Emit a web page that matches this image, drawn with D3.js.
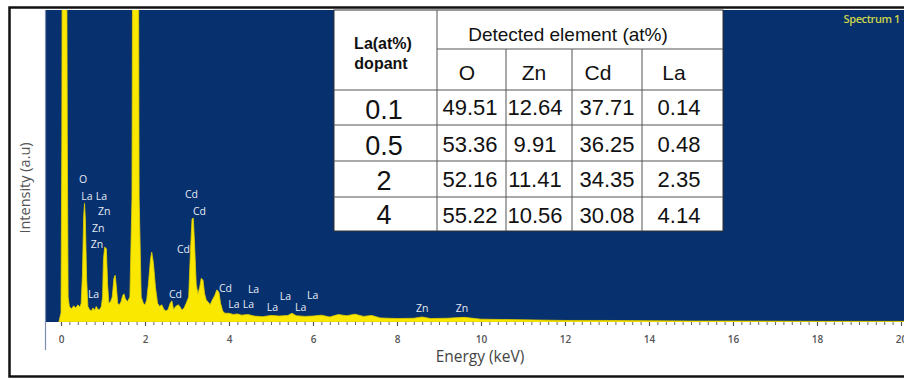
<!DOCTYPE html>
<html>
<head>
<meta charset="utf-8">
<script src="https://cdn.jsdelivr.net/npm/d3@7"></script>
<style>
  html, body { margin: 0; padding: 0; background: #fff; }
  svg { display: block; }
</style>
</head>
<body>
<svg id="chart" width="904" height="380"></svg>
<script>
// EDS spectrum: energy (keV) and intensity (arbitrary units, 100 = top of frame)
const energy = [
  -0.05, 0.00, 0.02, 0.04, 0.12, 0.15, 0.17,
  0.20, 0.25, 0.30, 0.35, 0.40, 0.45,
  0.48, 0.51, 0.54, 0.56, 0.58, 0.61, 0.64,
  0.68, 0.72, 0.76, 0.80, 0.84, 0.88,
  0.92, 0.96, 0.99, 1.01, 1.04, 1.08, 1.11, 1.14,
  1.18, 1.22, 1.26, 1.29, 1.32, 1.35,
  1.39, 1.43, 1.47, 1.50, 1.53, 1.58,
  1.64, 1.69, 1.72, 1.83, 1.86, 1.91,
  1.96, 2.00, 2.04,
  2.08, 2.13, 2.16, 2.20, 2.25, 2.30,
  2.35, 2.40, 2.45, 2.50, 2.55,
  2.60, 2.64, 2.68, 2.73, 2.79, 2.83, 2.88, 2.93, 2.98,
  3.04, 3.08, 3.12, 3.15, 3.18, 3.22, 3.26,
  3.30, 3.34, 3.38, 3.42, 3.46,
  3.50, 3.55, 3.60,
  3.66, 3.71, 3.76, 3.80, 3.85, 3.90,
  4.00, 4.10, 4.20, 4.30, 4.45, 4.60, 4.80, 5.00, 5.20, 5.40, 5.50, 5.60,
  5.80, 6.00, 6.20, 6.40, 6.60, 6.80, 7.00, 7.20, 7.40, 7.60, 8.00, 8.40,
  8.60, 8.80, 9.20, 9.60, 10.0, 10.5, 11.0, 12.0, 13.0, 14.0, 15.0, 16.0,
  18.0, 20.0, 21.0
];
const intensity = [
  0, 3, 60, 200, 200, 60, 8,
  5, 4.2, 5.2, 4.5, 5.5, 4.8,
  6, 15, 34, 38, 33, 14, 5,
  4, 3.5, 4.5, 3.8, 5, 4,
  4, 5, 8, 20, 24, 23.5, 12, 6,
  6.5, 8, 14, 15, 11, 6,
  5.5, 6.5, 8.5, 9, 7.5, 6.5,
  8, 40, 200, 200, 40, 8,
  6, 5.5, 7,
  12, 20, 22.4, 19, 11, 6,
  5, 5.5, 4, 3.5, 4,
  6, 6.8, 4, 5, 5.5, 5, 3.8, 4.5, 6,
  8, 22, 33, 33.3, 25, 12, 9,
  11, 14, 13.5, 9, 7,
  6.5, 5.5, 7,
  8.5, 10.3, 9.5, 6, 3.5, 2.8,
  2.8, 2.4, 2.6, 2.2, 2.4, 1.9, 1.7, 2.1, 1.9, 2.1, 2.8, 2.0,
  1.8, 1.9, 2.2, 1.6, 2.4, 2.0, 2.5, 1.8, 2.1, 1.3, 1.1, 1.2,
  1.6, 1.1, 1.2, 1.5, 0.9, 0.8, 0.7, 0.5, 0.5, 0.4, 0.3, 0.3,
  0.2, 0.2, 0.2
];

// x-axis tick labels (keV)
const energyTicks = [0, 2, 4, 6, 8, 10, 12, 14, 16, 18, 20];

// line identifications: text, energy of left edge, intensity of baseline
const peakText   = ["O", "La", "La", "Zn", "Zn", "Zn", "La", "Cd", "Cd", "Cd", "Cd", "Cd",
                    "La", "La", "La", "La", "La", "La", "La", "Zn", "Zn"];
const peakEnergy = [0.43, 0.48, 0.83, 0.88, 0.74, 0.71, 0.64, 2.95, 3.14, 2.76, 2.57, 3.76,
                    4.45, 3.98, 4.33, 4.90, 5.21, 5.57, 5.86, 8.45, 9.40];
const peakLevel  = [44.6, 39.1, 39.1, 34.3, 28.8, 23.7, 7.7, 39.7, 34.3, 22.1, 7.7, 9.6,
                    9.3, 4.5, 4.5, 3.5, 7.1, 3.5, 7.4, 3.2, 3.2];

// composition table
const dopantLevels = ["0.1", "0.5", "2", "4"];
const elements = ["O", "Zn", "Cd", "La"];
const oxygen    = [49.51, 53.36, 52.16, 55.22];
const zinc      = [12.64, 9.91, 11.41, 10.56];
const cadmium   = [37.71, 36.25, 34.35, 30.08];
const lanthanum = [0.14, 0.48, 2.35, 4.14];

const svg = d3.select("#chart");
const plot = { left: 45, top: 10, right: 904, bottom: 322 };

// outer frame
svg.append("rect")
  .attr("x", 9.5).attr("y", 7.5)
  .attr("width", 910).attr("height", 369)
  .attr("fill", "#fff").attr("stroke", "#111").attr("stroke-width", 2.5);

// plot background
svg.append("rect")
  .attr("x", plot.left).attr("y", plot.top)
  .attr("width", plot.right - plot.left).attr("height", plot.bottom - plot.top)
  .attr("fill", "#06306e");

const x = d3.scaleLinear().domain([0, 20]).range([61, 901]);
const y = d3.scaleLinear().domain([0, 100]).range([plot.bottom, plot.top]);

svg.append("clipPath").attr("id", "plotClip")
  .append("rect")
  .attr("x", plot.left).attr("y", plot.top)
  .attr("width", plot.right - plot.left).attr("height", plot.bottom - plot.top);

const spectrum = energy.map((e, i) => [e, intensity[i]]);
const area = d3.area()
  .x(d => x(d[0]))
  .y0(y(0))
  .y1(d => y(d[1]));

svg.append("path")
  .datum(spectrum)
  .attr("clip-path", "url(#plotClip)")
  .attr("d", area)
  .attr("fill", "#fbe800")
  .attr("stroke", "#e2cf00")
  .attr("stroke-width", 0.8)
  .attr("stroke-linejoin", "round");

// peak identifications
svg.append("g")
  .selectAll("text")
  .data(peakText)
  .join("text")
  .attr("x", (d, i) => x(peakEnergy[i]))
  .attr("y", (d, i) => y(peakLevel[i]))
  .attr("fill", "#e6ebf5")
  .attr("font-family", "'Open Sans', sans-serif")
  .attr("font-size", 10.5)
  .text(d => d);

// "Spectrum 1" tag
svg.append("text")
  .attr("x", 900).attr("y", 23)
  .attr("text-anchor", "end")
  .attr("fill", "#cdd54a")
  .attr("font-family", "'Open Sans', sans-serif")
  .attr("font-weight", 600)
  .attr("font-size", 11)
  .attr("letter-spacing", -0.4)
  .text("Spectrum 1");

// left axis line
svg.append("line")
  .attr("x1", plot.left + 0.5).attr("x2", plot.left + 0.5)
  .attr("y1", plot.top).attr("y2", 350)
  .attr("stroke", "#7d8db0").attr("stroke-width", 1.2);

// energy axis: minor ticks every 0.2 keV, labelled ticks every 2 keV
const minor = d3.range(0, 101).map(i => i * 0.2);
svg.append("g")
  .attr("transform", `translate(0,${plot.bottom})`)
  .call(d3.axisBottom(x).tickValues(minor).tickSize(3).tickFormat(""))
  .call(g => g.select(".domain").remove())
  .call(g => g.selectAll("line").attr("stroke", "#666").attr("stroke-width", 1));

svg.append("g")
  .attr("transform", `translate(0,${plot.bottom})`)
  .call(d3.axisBottom(x).tickValues(energyTicks).tickSize(4).tickPadding(10).tickFormat(d3.format("d")))
  .call(g => g.select(".domain").remove())
  .call(g => g.selectAll("line").attr("stroke", "#555").attr("stroke-width", 1.2))
  .call(g => g.selectAll("text")
    .attr("fill", "#555")
    .attr("font-family", "'Open Sans', sans-serif")
    .attr("font-weight", 600)
    .attr("font-size", 10));

svg.append("text")
  .attr("x", 480).attr("y", 362)
  .attr("text-anchor", "middle")
  .attr("fill", "#444")
  .attr("font-family", "'Open Sans', sans-serif")
  .attr("font-size", 15.5)
  .text("Energy (keV)");

svg.append("text")
  .attr("transform", "translate(30,188) rotate(-90)")
  .attr("text-anchor", "middle")
  .attr("fill", "#555")
  .attr("font-family", "'Open Sans', sans-serif")
  .attr("font-size", 14.5)
  .text("Intensity (a.u)");

// composition table
const cols = [334, 437, 506, 572, 642, 723];
const rows = [10, 49, 90, 125, 161, 197, 231];
const tbl = svg.append("g").attr("font-family", "'Liberation Sans', Arial, sans-serif").attr("fill", "#111");

tbl.append("rect")
  .attr("x", cols[0]).attr("y", rows[0])
  .attr("width", cols[5] - cols[0]).attr("height", rows[6] - rows[0])
  .attr("fill", "#fff").attr("stroke", "#333").attr("stroke-width", 1);

const gridColor = "#555";
// vertical lines
tbl.append("line").attr("x1", cols[1]).attr("x2", cols[1]).attr("y1", rows[0]).attr("y2", rows[6])
  .attr("stroke", gridColor);
[2, 3, 4].forEach(c => {
  tbl.append("line").attr("x1", cols[c]).attr("x2", cols[c]).attr("y1", rows[1]).attr("y2", rows[6])
    .attr("stroke", gridColor);
});
// horizontal lines
tbl.append("line").attr("x1", cols[1]).attr("x2", cols[5]).attr("y1", rows[1]).attr("y2", rows[1])
  .attr("stroke", gridColor);
[2, 3, 4, 5].forEach(r => {
  tbl.append("line").attr("x1", cols[0]).attr("x2", cols[5]).attr("y1", rows[r]).attr("y2", rows[r])
    .attr("stroke", gridColor);
});

tbl.append("text").attr("x", 383).attr("y", 49).attr("text-anchor", "middle")
  .attr("font-weight", "bold").attr("font-size", 16).text("La(at%)");
tbl.append("text").attr("x", 381).attr("y", 69).attr("text-anchor", "middle")
  .attr("font-weight", "bold").attr("font-size", 16).text("dopant");
tbl.append("text").attr("x", 568).attr("y", 41).attr("text-anchor", "middle")
  .attr("font-size", 19).text("Detected element (at%)");

const headerX = [467, 534, 598, 674];
tbl.selectAll("text.el").data(elements).join("text").attr("class", "el")
  .attr("x", (d, i) => headerX[i]).attr("y", 80).attr("text-anchor", "middle")
  .attr("font-size", 21).text(d => d);

const firstBase = [119, 155, 190, 224];
const valueBase = [115, 152, 187, 223];
tbl.selectAll("text.dop").data(dopantLevels).join("text").attr("class", "dop")
  .attr("x", 384).attr("y", (d, i) => firstBase[i]).attr("text-anchor", "middle")
  .attr("font-size", 27).text(d => d);

const valueX = [470, 535, 607, 679];
[oxygen, zinc, cadmium, lanthanum].forEach((series, c) => {
  tbl.selectAll(`text.v${c}`).data(series).join("text").attr("class", `v${c}`)
    .attr("x", valueX[c]).attr("y", (d, i) => valueBase[i]).attr("text-anchor", "middle")
    .attr("font-size", 22).text(d => d.toFixed(2));
});
</script>
</body>
</html>
